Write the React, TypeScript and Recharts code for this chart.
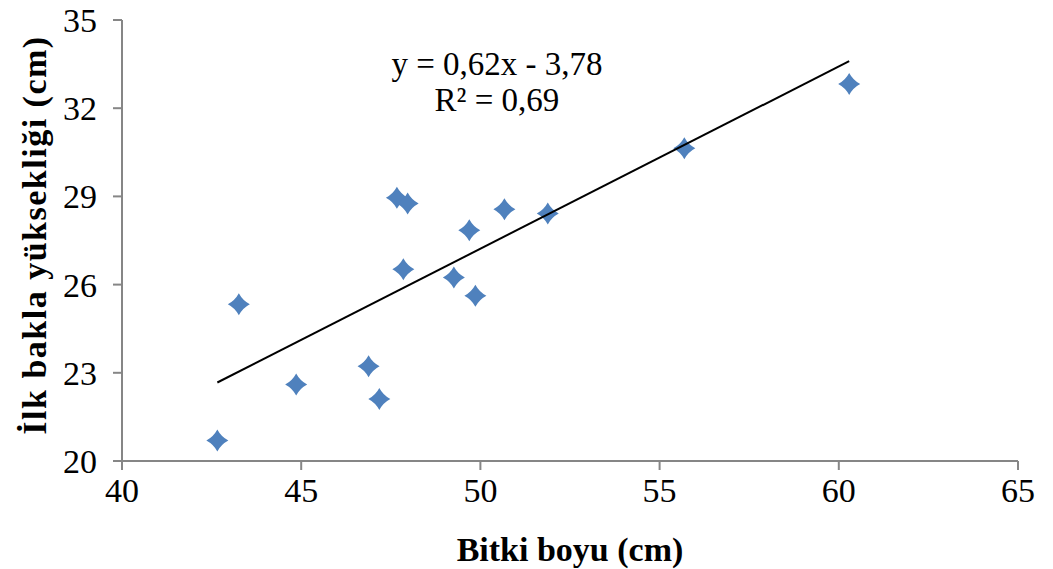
import { ScatterChart, Scatter, XAxis, YAxis, Customized } from 'recharts'

// Bitki boyu (cm)
const boy = [42.66, 43.26, 44.86, 46.88, 47.18, 47.67, 47.97, 47.85, 49.26, 49.69, 49.86, 50.67, 51.88, 55.69, 60.29]
// İlk bakla yüksekliği (cm)
const bakla = [20.7, 25.33, 22.6, 23.22, 22.11, 28.95, 28.76, 26.52, 26.24, 27.85, 25.62, 28.56, 28.42, 30.64, 32.82]

// trend line ends (y = 0,62x - 3,78)
const trendX = [42.66, 60.29]
const trendY = [22.67, 33.6]

const xTicks = [40, 45, 50, 55, 60, 65]
const yTicks = [20, 23, 26, 29, 32, 35]

const points = boy.map((x, i) => ({ x, y: bakla[i] }))
const trend = trendX.map((x, i) => ({ x, y: trendY[i] }))

const FONT = '"Liberation Serif", "Times New Roman", serif'
const axisColor = '#868686'

function Diamond(props: any) {
  const { cx, cy } = props
  const r = 11
  const c = 3.8
  return (
    <path
      d={`M${cx},${cy - r} Q${cx + c},${cy - c} ${cx + r},${cy} Q${cx + c},${cy + c} ${cx},${cy + r} Q${cx - c},${cy + c} ${cx - r},${cy} Q${cx - c},${cy - c} ${cx},${cy - r}Z`}
      fill="#4F81BD"
    />
  )
}

function Annotations() {
  return (
    <g fontFamily={FONT} fill="#000">
      <text x={497} y={75} fontSize={33} textAnchor="middle">y = 0,62x - 3,78</text>
      <text x={497} y={111} fontSize={33} textAnchor="middle">R² = 0,69</text>
      <text x={570} y={561} fontSize={34} fontWeight="bold" textAnchor="middle">Bitki boyu (cm)</text>
      <text
        x={46}
        y={235}
        fontSize={34}
        fontWeight="bold"
        letterSpacing={1.5}
        textAnchor="middle"
        transform="rotate(-90 46 235)"
      >
        İlk bakla yüksekliği (cm)
      </text>
    </g>
  )
}

export default function App() {
  return (
    <div style={{ position: 'absolute', left: 0, top: 0, background: '#fff' }}>
      <ScatterChart width={1053} height={569} margin={{ top: 20, right: 35, bottom: 48, left: 0 }}>
        <XAxis
          type="number"
          dataKey="x"
          domain={[40, 65]}
          ticks={xTicks}
          height={60}
          stroke={axisColor}
          strokeWidth={2}
          tickSize={9}
          tickMargin={8}
          tick={{ fontSize: 34, fill: '#000', fontFamily: FONT }}
        />
        <YAxis
          type="number"
          dataKey="y"
          domain={[20, 35]}
          ticks={yTicks}
          width={122}
          stroke={axisColor}
          strokeWidth={2}
          tickSize={9}
          tickMargin={16}
          tick={{ fontSize: 34, fill: '#000', fontFamily: FONT }}
        />
        <Scatter data={points} shape={<Diamond />} isAnimationActive={false} />
        <Scatter
          data={trend}
          line={{ stroke: '#000', strokeWidth: 2 }}
          lineType="joint"
          shape={() => <g />}
          isAnimationActive={false}
        />
        <Customized component={<Annotations />} />
      </ScatterChart>
    </div>
  )
}
